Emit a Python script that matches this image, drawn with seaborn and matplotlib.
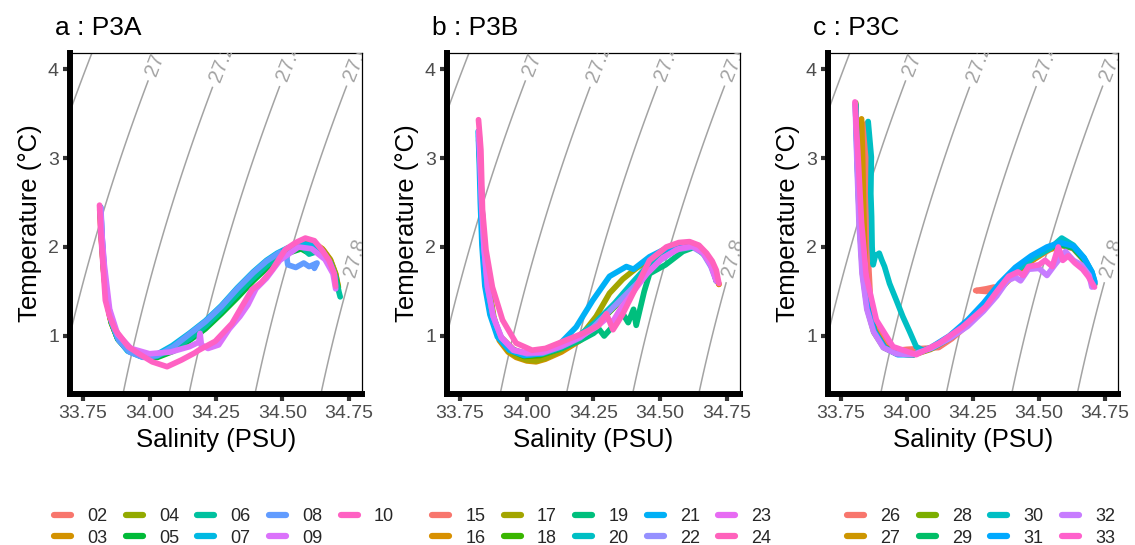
import numpy as np
import pandas as pd
import matplotlib
matplotlib.use("Agg")
import matplotlib.pyplot as plt
import seaborn as sns
from matplotlib.lines import Line2D

sns.set_theme(style="white")
plt.rcParams["font.family"] = ["Liberation Sans", "DejaVu Sans"]

# ---------------- data (salinity S, temperature T per station) ----------------
panel_titles = ["a : P3A", "b : P3B", "c : P3C"]
stations_a = ["02", "03", "04", "05", "06", "07", "08", "09", "10"]
stations_b = ["15", "16", "17", "18", "19", "20", "21", "22", "23", "24"]
stations_c = ["26", "27", "28", "29", "30", "31", "32", "33"]
pal_a = ["#F8766D", "#D39200", "#93AA00", "#00BA38", "#00C19F", "#00B9E3", "#619CFF", "#DB72FB", "#FF61C3"]
pal_b = ["#F8766D", "#D89000", "#A3A500", "#39B600", "#00BF7D", "#00BFC4", "#00B0F6", "#9590FF", "#E76BF3", "#FF62BC"]
pal_c = ["#F8766D", "#CD9600", "#7CAE00", "#00BE67", "#00BFC4", "#00A9FF", "#C77CFF", "#FF61CC"]
x_ticks = [33.75, 34.00, 34.25, 34.50, 34.75]
y_ticks = [1, 2, 3, 4]
sigma_unlabeled = [26.8]
sigma_labeled = [27.0, 27.2, 27.4, 27.6, 27.8]

# panel a
S_02 = [33.813, 33.818, 33.826, 33.836, 33.852, 33.876, 33.915, 33.965, 34.02, 34.085, 34.15, 34.21, 34.27, 34.335, 34.39, 34.435, 34.48, 34.523, 34.57, 34.62, 34.655, 34.68, 34.70, 34.705]
T_02 = [2.42, 2.15, 1.80, 1.45, 1.20, 1.00, 0.86, 0.79, 0.78, 0.86, 0.99, 1.13, 1.30, 1.50, 1.67, 1.80, 1.91, 1.98, 2.04, 2.04, 1.96, 1.85, 1.68, 1.55]
S_03 = [33.814, 33.819, 33.827, 33.838, 33.855, 33.88, 33.92, 33.97, 34.025, 34.09, 34.15, 34.21, 34.27, 34.33, 34.39, 34.44, 34.48, 34.52, 34.57, 34.61, 34.65, 34.68, 34.70, 34.71]
T_03 = [2.40, 2.10, 1.75, 1.40, 1.16, 0.97, 0.84, 0.77, 0.77, 0.85, 0.97, 1.11, 1.28, 1.47, 1.66, 1.80, 1.90, 1.98, 2.05, 2.06, 1.98, 1.86, 1.70, 1.55]
S_04 = [33.815, 33.82, 33.828, 33.84, 33.857, 33.882, 33.922, 33.972, 34.03, 34.09, 34.15, 34.21, 34.27, 34.33, 34.39, 34.44, 34.48, 34.52, 34.57, 34.61, 34.65, 34.68, 34.70, 34.71]
T_04 = [2.41, 2.08, 1.72, 1.38, 1.14, 0.96, 0.83, 0.77, 0.77, 0.84, 0.96, 1.10, 1.27, 1.46, 1.65, 1.79, 1.89, 1.97, 2.04, 2.05, 1.97, 1.85, 1.69, 1.54]
S_05 = [33.815, 33.82, 33.829, 33.84, 33.857, 33.882, 33.922, 33.972, 34.03, 34.09, 34.15, 34.21, 34.27, 34.33, 34.39, 34.44, 34.48, 34.52, 34.57, 34.60, 34.62, 34.65, 34.68, 34.70, 34.71]
T_05 = [2.42, 2.10, 1.74, 1.40, 1.15, 0.96, 0.83, 0.77, 0.76, 0.83, 0.95, 1.08, 1.25, 1.43, 1.62, 1.76, 1.86, 1.93, 1.98, 1.93, 1.98, 1.92, 1.82, 1.66, 1.52]
S_06 = [33.815, 33.82, 33.828, 33.839, 33.856, 33.88, 33.92, 33.97, 34.025, 34.09, 34.15, 34.21, 34.27, 34.33, 34.39, 34.44, 34.48, 34.52, 34.57, 34.60, 34.63, 34.66, 34.69, 34.705, 34.717]
T_06 = [2.43, 2.12, 1.76, 1.42, 1.17, 0.98, 0.84, 0.78, 0.77, 0.85, 0.97, 1.11, 1.28, 1.47, 1.65, 1.79, 1.89, 1.96, 2.02, 1.92, 1.95, 1.88, 1.74, 1.58, 1.44]
S_07 = [33.816, 33.821, 33.829, 33.84, 33.856, 33.88, 33.918, 33.968, 34.02, 34.085, 34.15, 34.21, 34.27, 34.33, 34.39, 34.44, 34.48, 34.52, 34.57, 34.61, 34.65, 34.68, 34.70]
T_07 = [2.45, 2.12, 1.76, 1.42, 1.17, 0.97, 0.83, 0.77, 0.78, 0.89, 1.03, 1.17, 1.34, 1.54, 1.72, 1.85, 1.93, 1.99, 2.04, 2.02, 1.94, 1.82, 1.65]
S_08 = [33.817, 33.822, 33.83, 33.842, 33.86, 33.885, 33.925, 33.975, 34.03, 34.09, 34.15, 34.21, 34.27, 34.33, 34.39, 34.44, 34.49, 34.515, 34.52, 34.55, 34.58, 34.60, 34.63, 34.62]
T_08 = [2.44, 2.10, 1.73, 1.39, 1.14, 0.95, 0.82, 0.76, 0.78, 0.88, 1.02, 1.16, 1.33, 1.53, 1.71, 1.84, 1.94, 1.90, 1.80, 1.77, 1.82, 1.78, 1.82, 1.76]
S_09 = [33.816, 33.822, 33.83, 33.85, 33.88, 33.93, 34.00, 34.08, 34.15, 34.185, 34.19, 34.195, 34.22, 34.26, 34.30, 34.34, 34.37, 34.40, 34.44, 34.49, 34.56, 34.61, 34.66, 34.69, 34.70]
T_09 = [2.44, 2.10, 1.80, 1.30, 1.02, 0.86, 0.80, 0.82, 0.88, 0.93, 1.03, 0.90, 0.86, 0.90, 1.08, 1.22, 1.35, 1.53, 1.65, 1.85, 2.00, 1.98, 1.86, 1.70, 1.53]
S_10 = [33.812, 33.817, 33.825, 33.834, 33.85, 33.871, 33.92, 33.96, 34.01, 34.066, 34.12, 34.17, 34.185, 34.247, 34.31, 34.345, 34.385, 34.42, 34.46, 34.51, 34.55, 34.586, 34.62, 34.65, 34.675, 34.695, 34.70]
T_10 = [2.47, 2.15, 1.80, 1.40, 1.22, 1.07, 0.88, 0.80, 0.71, 0.655, 0.73, 0.81, 0.84, 0.94, 1.14, 1.32, 1.52, 1.60, 1.74, 1.97, 2.05, 2.10, 2.07, 1.96, 1.85, 1.70, 1.56]

# panel b
S_15 = [33.82, 33.825, 33.83, 33.838, 33.85, 33.87, 33.90, 33.95, 34.00, 34.06, 34.13, 34.20, 34.27, 34.34, 34.40, 34.46, 34.52, 34.58, 34.62, 34.66, 34.69, 34.71, 34.72]
T_15 = [3.20, 2.95, 2.50, 2.00, 1.55, 1.25, 1.00, 0.85, 0.79, 0.80, 0.86, 0.97, 1.15, 1.38, 1.58, 1.78, 1.93, 2.00, 2.02, 1.96, 1.82, 1.65, 1.58]
S_16 = [33.82, 33.826, 33.832, 33.842, 33.856, 33.875, 33.897, 33.93, 33.96, 34.00, 34.035, 34.07, 34.13, 34.20, 34.27, 34.33, 34.39, 34.45, 34.51, 34.57, 34.62, 34.66, 34.69, 34.71, 34.72]
T_16 = [3.20, 2.80, 2.30, 1.90, 1.55, 1.20, 0.95, 0.82, 0.76, 0.72, 0.71, 0.74, 0.82, 0.95, 1.14, 1.36, 1.56, 1.76, 1.91, 1.99, 2.01, 1.95, 1.82, 1.66, 1.58]
S_17 = [33.821, 33.827, 33.833, 33.843, 33.857, 33.876, 33.90, 33.935, 33.97, 34.00, 34.035, 34.07, 34.13, 34.20, 34.26, 34.31, 34.36, 34.41, 34.46, 34.52, 34.58, 34.63, 34.67, 34.70, 34.71]
T_17 = [3.25, 2.85, 2.35, 1.92, 1.56, 1.22, 0.96, 0.82, 0.76, 0.73, 0.72, 0.75, 0.84, 0.99, 1.22, 1.48, 1.64, 1.76, 1.86, 1.95, 2.01, 2.02, 1.93, 1.76, 1.62]
S_18 = [33.821, 33.826, 33.832, 33.84, 33.852, 33.872, 33.90, 33.945, 33.99, 34.05, 34.12, 34.19, 34.26, 34.33, 34.39, 34.45, 34.51, 34.57, 34.62, 34.66, 34.69, 34.71]
T_18 = [3.22, 2.90, 2.45, 1.98, 1.54, 1.22, 0.98, 0.83, 0.77, 0.78, 0.85, 0.96, 1.12, 1.33, 1.54, 1.74, 1.90, 1.98, 2.01, 1.95, 1.81, 1.64]
S_19 = [33.82, 33.825, 33.831, 33.84, 33.852, 33.872, 33.90, 33.95, 34.00, 34.06, 34.13, 34.20, 34.25, 34.27, 34.29, 34.32, 34.36, 34.38, 34.40, 34.41, 34.44, 34.46, 34.52, 34.585, 34.63, 34.67, 34.70, 34.71]
T_19 = [3.25, 2.95, 2.45, 1.98, 1.54, 1.22, 0.98, 0.84, 0.79, 0.80, 0.86, 0.95, 1.03, 1.08, 1.00, 1.10, 1.25, 1.15, 1.30, 1.12, 1.50, 1.70, 1.80, 1.95, 2.00, 1.90, 1.74, 1.62]
S_20 = [33.821, 33.826, 33.831, 33.838, 33.85, 33.869, 33.897, 33.945, 33.995, 34.055, 34.12, 34.19, 34.26, 34.33, 34.39, 34.45, 34.51, 34.57, 34.62, 34.66, 34.69, 34.71]
T_20 = [3.28, 2.95, 2.50, 2.02, 1.57, 1.25, 1.00, 0.85, 0.79, 0.80, 0.87, 0.99, 1.16, 1.37, 1.58, 1.78, 1.93, 2.00, 2.02, 1.95, 1.80, 1.64]
S_21 = [33.818, 33.822, 33.826, 33.832, 33.843, 33.862, 33.89, 33.935, 33.99, 34.05, 34.12, 34.185, 34.247, 34.31, 34.373, 34.40, 34.46, 34.52, 34.58, 34.63, 34.67, 34.70, 34.71]
T_21 = [3.30, 2.95, 2.50, 2.02, 1.56, 1.24, 0.99, 0.84, 0.78, 0.80, 0.90, 1.10, 1.40, 1.67, 1.78, 1.75, 1.89, 1.98, 2.02, 2.01, 1.92, 1.76, 1.62]
S_22 = [33.821, 33.826, 33.832, 33.84, 33.853, 33.874, 33.905, 33.95, 34.00, 34.06, 34.13, 34.20, 34.25, 34.30, 34.35, 34.40, 34.45, 34.50, 34.56, 34.62, 34.66, 34.69, 34.71]
T_22 = [3.28, 2.95, 2.45, 1.98, 1.55, 1.22, 0.98, 0.84, 0.80, 0.81, 0.88, 0.98, 1.10, 1.25, 1.40, 1.55, 1.70, 1.85, 1.97, 2.00, 1.93, 1.78, 1.62]
S_23 = [33.82, 33.825, 33.831, 33.84, 33.853, 33.874, 33.905, 33.95, 34.00, 34.06, 34.13, 34.20, 34.26, 34.30, 34.32, 34.35, 34.40, 34.45, 34.51, 34.57, 34.62, 34.66, 34.69, 34.71]
T_23 = [3.30, 2.95, 2.45, 1.98, 1.55, 1.22, 0.98, 0.84, 0.81, 0.82, 0.89, 0.99, 1.10, 1.20, 1.15, 1.30, 1.50, 1.70, 1.88, 1.98, 2.01, 1.94, 1.80, 1.62]
S_24 = [33.819, 33.824, 33.828, 33.834, 33.847, 33.871, 33.909, 33.96, 34.02, 34.07, 34.12, 34.21, 34.27, 34.298, 34.323, 34.34, 34.36, 34.41, 34.46, 34.523, 34.57, 34.61, 34.645, 34.674, 34.695, 34.71, 34.72]
T_24 = [3.43, 3.25, 3.09, 2.42, 1.97, 1.55, 1.18, 0.92, 0.84, 0.86, 0.92, 1.03, 1.12, 1.25, 1.07, 1.15, 1.25, 1.55, 1.85, 2.00, 2.05, 2.06, 2.02, 1.93, 1.84, 1.74, 1.59]

# panel c
S_26 = [33.847, 33.85, 33.852, 33.853, 33.862, 33.885, 33.925, 33.97, 34.00, 34.06, 34.12, 34.17, 34.24, 34.30, 34.33, 34.30, 34.26, 34.30, 34.36, 34.42, 34.48, 34.54, 34.59, 34.63, 34.67, 34.70]
T_26 = [3.39, 3.10, 2.50, 1.90, 1.40, 1.08, 0.90, 0.84, 0.85, 0.86, 0.87, 0.97, 1.15, 1.36, 1.55, 1.53, 1.51, 1.50, 1.57, 1.74, 1.86, 1.97, 2.02, 1.98, 1.85, 1.68]
S_27 = [33.828, 33.832, 33.836, 33.842, 33.855, 33.877, 33.915, 33.965, 34.025, 34.09, 34.16, 34.23, 34.29, 34.35, 34.41, 34.47, 34.53, 34.58, 34.63, 34.67, 34.70, 34.71]
T_27 = [3.44, 3.00, 2.40, 1.80, 1.35, 1.07, 0.88, 0.80, 0.79, 0.85, 0.97, 1.13, 1.31, 1.52, 1.70, 1.84, 1.96, 2.02, 1.99, 1.86, 1.69, 1.58]
S_28 = [33.806, 33.812, 33.82, 33.832, 33.85, 33.875, 33.912, 33.96, 34.02, 34.09, 34.16, 34.23, 34.29, 34.35, 34.41, 34.47, 34.53, 34.58, 34.63, 34.67, 34.70, 34.71]
T_28 = [3.62, 3.00, 2.30, 1.70, 1.30, 1.04, 0.87, 0.80, 0.79, 0.86, 0.98, 1.15, 1.33, 1.55, 1.73, 1.87, 1.98, 2.03, 1.99, 1.86, 1.69, 1.58]
S_29 = [33.806, 33.812, 33.821, 33.834, 33.853, 33.878, 33.915, 33.965, 34.025, 34.09, 34.16, 34.23, 34.29, 34.35, 34.41, 34.47, 34.53, 34.58, 34.63, 34.67, 34.70, 34.71]
T_29 = [3.60, 3.00, 2.30, 1.70, 1.30, 1.05, 0.87, 0.80, 0.79, 0.86, 0.98, 1.14, 1.32, 1.54, 1.72, 1.87, 1.98, 2.03, 1.99, 1.86, 1.69, 1.58]
S_30 = [33.853, 33.865, 33.863, 33.866, 33.868, 33.872, 33.88, 33.895, 33.905, 33.915, 33.934, 33.96, 33.984, 34.01, 34.035, 34.06, 34.10, 34.17, 34.24, 34.30, 34.36, 34.42, 34.48, 34.54, 34.586, 34.63, 34.67, 34.70, 34.71]
T_30 = [3.41, 3.01, 2.60, 2.34, 2.00, 1.80, 1.90, 1.93, 1.85, 1.78, 1.59, 1.40, 1.22, 1.05, 0.88, 0.84, 0.87, 0.99, 1.18, 1.36, 1.57, 1.75, 1.88, 1.98, 2.10, 2.02, 1.88, 1.72, 1.62]
S_31 = [33.805, 33.811, 33.82, 33.833, 33.852, 33.877, 33.915, 33.965, 34.025, 34.09, 34.16, 34.23, 34.29, 34.35, 34.41, 34.47, 34.53, 34.58, 34.63, 34.67, 34.70, 34.712]
T_31 = [3.60, 3.00, 2.30, 1.70, 1.30, 1.05, 0.87, 0.79, 0.79, 0.87, 1.00, 1.18, 1.37, 1.59, 1.77, 1.90, 2.00, 2.05, 2.01, 1.88, 1.72, 1.60]
S_32 = [33.804, 33.81, 33.818, 33.83, 33.848, 33.873, 33.91, 33.96, 34.02, 34.09, 34.16, 34.23, 34.29, 34.34, 34.38, 34.41, 34.43, 34.46, 34.50, 34.53, 34.56, 34.60, 34.63, 34.66, 34.69, 34.70]
T_32 = [3.61, 3.00, 2.30, 1.70, 1.30, 1.05, 0.87, 0.80, 0.79, 0.86, 0.97, 1.11, 1.28, 1.45, 1.62, 1.66, 1.62, 1.75, 1.76, 1.68, 1.80, 1.95, 1.85, 1.80, 1.68, 1.55]
S_33 = [33.803, 33.815, 33.828, 33.846, 33.884, 33.947, 34.035, 34.122, 34.21, 34.298, 34.34, 34.385, 34.42, 34.44, 34.46, 34.50, 34.523, 34.55, 34.573, 34.59, 34.61, 34.636, 34.665, 34.686, 34.71]
T_33 = [3.63, 3.01, 2.27, 1.67, 1.18, 0.88, 0.79, 0.92, 1.10, 1.33, 1.50, 1.67, 1.72, 1.68, 1.78, 1.80, 1.85, 1.78, 2.00, 1.85, 1.90, 1.82, 1.75, 1.67, 1.55]

series_a = [(S_02, T_02), (S_03, T_03), (S_04, T_04), (S_05, T_05), (S_06, T_06), (S_07, T_07), (S_08, T_08), (S_09, T_09), (S_10, T_10)]
series_b = [(S_15, T_15), (S_16, T_16), (S_17, T_17), (S_18, T_18), (S_19, T_19), (S_20, T_20), (S_21, T_21), (S_22, T_22), (S_23, T_23), (S_24, T_24)]
series_c = [(S_26, T_26), (S_27, T_27), (S_28, T_28), (S_29, T_29), (S_30, T_30), (S_31, T_31), (S_32, T_32), (S_33, T_33)]


def to_frame(names, series):
    rows = []
    for n, (s, t) in zip(names, series):
        for i, (sv, tv) in enumerate(zip(s, t)):
            rows.append({"station": n, "S": sv, "T": tv, "i": i})
    return pd.DataFrame(rows)


def sigma0(S, T):
    """UNESCO EOS-80 density anomaly at surface pressure."""
    rw = (999.842594 + 6.793952e-2 * T - 9.095290e-3 * T**2 + 1.001685e-4 * T**3
          - 1.120083e-6 * T**4 + 6.536332e-9 * T**5)
    A = 8.24493e-1 - 4.0899e-3 * T + 7.6438e-5 * T**2 - 8.2467e-7 * T**3 + 5.3875e-9 * T**4
    B = -5.72466e-3 + 1.0227e-4 * T - 1.6546e-6 * T**2
    C = 4.8314e-4
    return rw + A * S + B * S**1.5 + C * S**2 - 1000.0


# ---------------- figure ----------------
W, H = 1135, 545
fig = plt.figure(figsize=(W / 100, H / 100), dpi=100)
fig.patch.set_facecolor("white")

panel_left = [70, 447, 828]
panel_width = [292, 293, 290]
top_px, bot_px = 53, 394
xlim = (33.701, 34.799)
ylim = (0.348, 4.18)

groups = [(stations_a, series_a, pal_a), (stations_b, series_b, pal_b), (stations_c, series_c, pal_c)]
legend_x = [54, 432, 847]
legend_ncol = [5, 5, 4]

Sg, Tg = np.meshgrid(np.linspace(33.5, 35.0, 400), np.linspace(0.0, 4.6, 400))
Sig = sigma0(Sg, Tg)

label_pos = [(34.012, 4.06), (34.262, 4.08), (34.522, 4.08), (34.778, 4.08), (34.775, 1.88)]

for k in range(3):
    names, series, pal = groups[k]
    ax = fig.add_axes([panel_left[k] / W, 1 - bot_px / H, panel_width[k] / W, (bot_px - top_px) / H])
    ax.set_facecolor("white")
    ax.set_xlim(*xlim)
    ax.set_ylim(*ylim)

    ax.contour(Sg, Tg, Sig, levels=sigma_unlabeled, colors="#a3a3a3", linewidths=1.1, zorder=1)
    cs = ax.contour(Sg, Tg, Sig, levels=sigma_labeled, colors="#a3a3a3", linewidths=1.1, zorder=1)
    ax.set_xlim(*xlim)
    ax.set_ylim(*ylim)
    labs = ax.clabel(cs, manual=label_pos, inline=True, inline_spacing=6,
                     fmt="%g", fontsize=14.5, colors="#a3a3a3")
    for t in labs:
        t.set_clip_on(True)

    df = to_frame(names, series)
    sns.lineplot(data=df, x="S", y="T", hue="station", hue_order=names, palette=pal,
                 sort=False, estimator=None, linewidth=4.1, legend=False, ax=ax, zorder=3)
    for ln in ax.get_lines():
        ln.set_solid_capstyle("round")
        ln.set_solid_joinstyle("round")
    ax.set_xlim(*xlim)
    ax.set_ylim(*ylim)

    ax.set_xticks(x_ticks)
    ax.set_xticklabels(["%.2f" % v for v in x_ticks])
    ax.set_yticks(y_ticks)
    ax.tick_params(axis="both", which="major", direction="out", length=5, width=3,
                   color="#333333", labelcolor="#4d4d4d", labelsize=14, pad=3,
                   bottom=True, left=True)
    ax.set_xlabel("Salinity (PSU)", fontsize=18.5, color="black", labelpad=4)
    ax.set_ylabel("Temperature (°C)", fontsize=18.5, color="black", labelpad=4)
    for side in ["top", "right"]:
        ax.spines[side].set_linewidth(0.9)
        ax.spines[side].set_color("black")
    for side in ["left", "bottom"]:
        ax.spines[side].set_linewidth(4.3)
        ax.spines[side].set_color("black")
        ax.spines[side].set_capstyle("projecting")
        ax.spines[side].set_zorder(5)
    ax.grid(False)

    fig.text((panel_left[k] - 15) / W, 1 - 35 / H, panel_titles[k], fontsize=19,
             color="black", ha="left", va="baseline")

    handles = [Line2D([0], [0], color=c, lw=4.5) for c in pal]
    fig.legend(handles, names, loc="upper left",
               bbox_to_anchor=(legend_x[k] / W, 1 - 508 / H), ncol=legend_ncol[k],
               frameon=False, fontsize=13, handlelength=0.95, handletextpad=0.9,
               columnspacing=1.0, labelspacing=0.25, borderpad=0, borderaxespad=0)

fig.savefig("out.png", dpi=100, facecolor="white")
